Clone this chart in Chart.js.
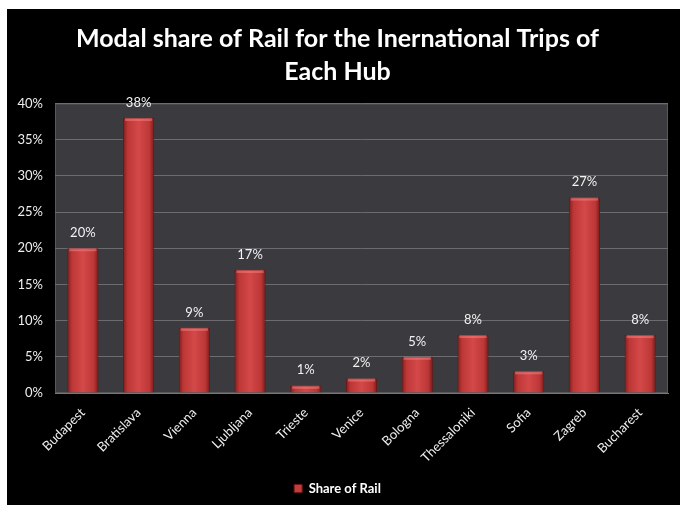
<!DOCTYPE html>
<html>
<head>
<meta charset="utf-8">
<script src="https://cdn.jsdelivr.net/npm/chart.js@4"></script>
<style>
    body { margin: 0; background: #fff; }
    #box { position: absolute; left: 7px; top: 9px; width: 673px; height: 496px; background: #000; }
</style>
</head>
<body>
<div id="box"><canvas id="railshare"></canvas></div>
<script>
// values
const hubs = ['Budapest', 'Bratislava', 'Vienna', 'Ljubljana', 'Trieste', 'Venice', 'Bologna', 'Thessaloniki', 'Sofia', 'Zagreb', 'Bucharest'];
const railShare = [20, 38, 9, 17, 1, 2, 5, 8, 3, 27, 8];
const yTicks = [0, 5, 10, 15, 20, 25, 30, 35, 40];
const seriesName = 'Share of Rail';
const titleLines = ['Modal share of Rail for the Inernational Trips of', 'Each Hub'];

// dark plot background + bevelled red bars + value labels
const plotBg = {
    id: 'plotBg',
    beforeDraw(chart) {
        const a = chart.chartArea, c = chart.ctx;
        c.save();
        c.fillStyle = '#3b3b3f';
        c.fillRect(a.left, a.top, a.right - a.left, a.bottom - a.top);
        c.strokeStyle = '#58585c';
        c.lineWidth = 1;
        c.strokeRect(a.left + 0.5, a.top + 0.5, a.right - a.left - 1, a.bottom - a.top - 1);
        c.restore();
    },
    beforeDatasetsDraw(chart) {
        const c = chart.ctx;
        chart.getDatasetMeta(0).data.forEach(function (bar) {
            const g = c.createLinearGradient(bar.x - bar.width / 2, 0, bar.x + bar.width / 2, 0);
            g.addColorStop(0, '#7e1c1c');
            g.addColorStop(0.15, '#bd3737');
            g.addColorStop(0.5, '#d44848');
            g.addColorStop(0.85, '#bd3737');
            g.addColorStop(1, '#7a1a1a');
            bar.options.backgroundColor = g;
        });
    },
    afterDatasetsDraw(chart) {
        const c = chart.ctx;
        c.save();
        c.font = '13px Lato';
        c.textAlign = 'center';
        c.textBaseline = 'bottom';
        chart.getDatasetMeta(0).data.forEach(function (bar, i) {
            // light top cap
            c.fillStyle = 'rgba(255,140,140,0.45)';
            c.fillRect(bar.x - bar.width / 2 + 2, bar.y, bar.width - 4, 3);
            c.fillStyle = '#f2f2f2';
            c.fillText(railShare[i] + '%', bar.x, bar.y - 9);
        });
        c.restore();
    }
};

new Chart(document.getElementById('railshare'), {
    type: 'bar',
    data: {
        labels: hubs,
        datasets: [{
            label: seriesName,
            data: railShare,
            // scriptable so every bar keeps its own options object
            backgroundColor: () => '#c43c3c',
            borderColor: '#6e1616',
            borderWidth: 1,
            categoryPercentage: 1,
            barPercentage: 0.56
        }]
    },
    options: {
        responsive: true,
        maintainAspectRatio: false,
        animation: false,
        layout: { padding: { left: 0, right: 12, top: 0, bottom: 0 } },
        plugins: {
            title: {
                display: true,
                text: titleLines,
                color: '#ffffff',
                font: { family: 'Lato', size: 25, weight: 'bold', lineHeight: 1.33 },
                padding: { top: 13, bottom: 15 }
            },
            legend: {
                position: 'bottom',
                labels: {
                    color: '#ffffff',
                    boxWidth: 8,
                    boxHeight: 8,
                    font: { family: 'Lato', size: 13, weight: 'bold' },
                    padding: 10
                }
            },
            tooltip: { enabled: false }
        },
        scales: {
            x: {
                grid: { display: false },
                border: { color: '#777' },
                ticks: {
                    color: '#eeeeee',
                    font: { family: 'Lato', size: 13 },
                    maxRotation: 45,
                    minRotation: 45,
                    padding: 4
                },
                afterFit(scale) { scale.height = 79; }
            },
            y: {
                min: 0,
                max: 40,
                afterBuildTicks(scale) { scale.ticks = yTicks.map(v => ({ value: v })); },
                grid: { color: '#6c6c70', drawTicks: false },
                border: { display: false },
                ticks: {
                    color: '#eeeeee',
                    font: { family: 'Lato', size: 13 },
                    padding: 12,
                    callback: v => v + '%'
                },
                afterFit(scale) { scale.width = 48; }
            }
        }
    },
    plugins: [plotBg]
});
</script>
</body>
</html>
